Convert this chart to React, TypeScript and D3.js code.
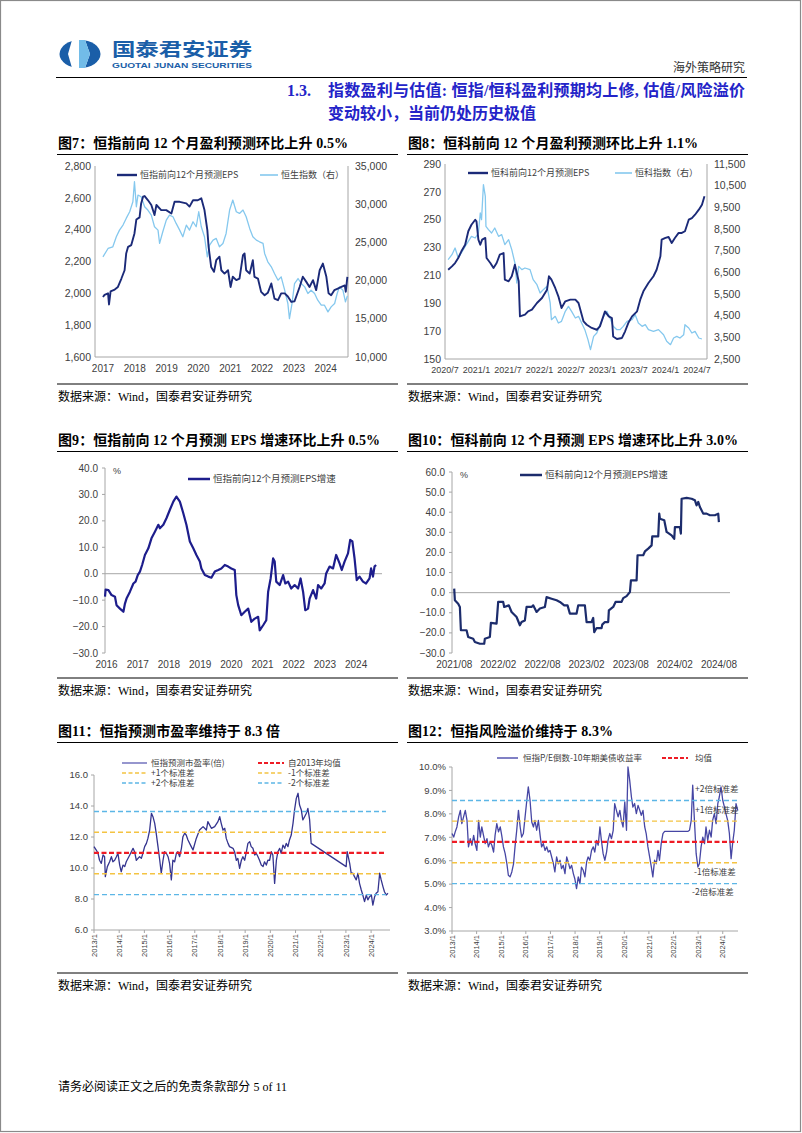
import React from "react";
import * as d3 from "d3";

type P = [number, number];

// ---------------- Fig 7: HSI forward EPS (left) & HSI (right) ----------------
const hsiEps: P[] = [
  [2017.0, 1977], [2017.05, 1990], [2017.16, 2000], [2017.19, 1930], [2017.24, 2013], [2017.37, 2024],
  [2017.47, 2040], [2017.58, 2093], [2017.68, 2145], [2017.73, 2250], [2017.79, 2292], [2017.89, 2303],
  [2017.99, 2376], [2018.05, 2464], [2018.15, 2477], [2018.2, 2565], [2018.26, 2607], [2018.31, 2611],
  [2018.41, 2586], [2018.52, 2555], [2018.62, 2492], [2018.68, 2555], [2018.83, 2523], [2018.99, 2523],
  [2019.15, 2502], [2019.25, 2575], [2019.41, 2575], [2019.62, 2565], [2019.72, 2545], [2019.83, 2585],
  [2019.98, 2585], [2020.09, 2597], [2020.19, 2523], [2020.28, 2397], [2020.32, 2292], [2020.4, 2166],
  [2020.49, 2135], [2020.56, 2208], [2020.66, 2230], [2020.72, 2145], [2020.82, 2124], [2020.93, 2145],
  [2021.01, 2040], [2021.08, 2104], [2021.19, 2083], [2021.29, 2093], [2021.4, 2240], [2021.45, 2250],
  [2021.5, 2145], [2021.61, 2124], [2021.71, 2208], [2021.76, 2104], [2021.87, 2093], [2021.97, 2009],
  [2022.08, 1988], [2022.18, 2003], [2022.29, 2062], [2022.39, 1967], [2022.5, 1957], [2022.6, 2000],
  [2022.71, 2000], [2022.81, 1980], [2022.92, 1946], [2023.02, 1950], [2023.18, 2040], [2023.28, 2104],
  [2023.39, 2072], [2023.49, 2040], [2023.6, 2083], [2023.7, 2020], [2023.81, 2145], [2023.91, 2187],
  [2024.02, 2104], [2024.09, 2000], [2024.17, 1988], [2024.27, 2020], [2024.38, 2030], [2024.49, 2040],
  [2024.6, 2050], [2024.63, 2010], [2024.68, 2104],
];
const hsiIndex: P[] = [
  [2017.0, 23114], [2017.16, 24206], [2017.31, 24425], [2017.42, 25736], [2017.52, 26610], [2017.63, 27265],
  [2017.73, 28139], [2017.84, 29013], [2017.94, 30324], [2017.99, 32946], [2018.05, 29668], [2018.1, 31198],
  [2018.2, 30980], [2018.31, 29668], [2018.41, 29232], [2018.52, 28576], [2018.62, 27047], [2018.73, 26610],
  [2018.78, 24862], [2018.88, 26391], [2018.99, 27920], [2019.09, 28576], [2019.2, 28358], [2019.3, 27484],
  [2019.41, 26610], [2019.51, 25736], [2019.62, 27265], [2019.72, 26610], [2019.83, 27702], [2019.93, 27047],
  [2020.01, 29013], [2020.09, 27047], [2020.19, 25736], [2020.28, 23114], [2020.35, 24643], [2020.46, 25299],
  [2020.56, 25517], [2020.66, 24425], [2020.77, 24862], [2020.87, 26173], [2020.98, 29232], [2021.08, 30543],
  [2021.19, 29013], [2021.29, 28795], [2021.4, 29232], [2021.5, 28358], [2021.61, 26828], [2021.71, 25736],
  [2021.82, 25299], [2021.92, 25080], [2022.03, 24862], [2022.08, 23551], [2022.18, 22459], [2022.29, 21802],
  [2022.39, 20929], [2022.5, 20055], [2022.6, 20492], [2022.71, 18744], [2022.81, 17000], [2022.86, 15030],
  [2022.94, 17000], [2023.02, 19618], [2023.13, 20273], [2023.23, 19618], [2023.34, 19180], [2023.44, 18307],
  [2023.54, 18744], [2023.65, 18307], [2023.75, 17432], [2023.86, 16777], [2023.96, 16777], [2024.07, 15903],
  [2024.17, 16558], [2024.28, 17000], [2024.36, 18307], [2024.43, 19181], [2024.54, 18744], [2024.62, 17214],
  [2024.68, 18000],
];
const fig7Years = [2017, 2018, 2019, 2020, 2021, 2022, 2023, 2024];
const fig7LeftTicks = [1600, 1800, 2000, 2200, 2400, 2600, 2800];
const fig7RightTicks = [10000, 15000, 20000, 25000, 30000, 35000];

// ---------------- Fig 8: HSTECH forward EPS (left) & HSTECH (right) ----------------
const hstechEps: P[] = [
  [2020.55, 214.1], [2020.61, 216.5], [2020.66, 218.9], [2020.71, 222.5], [2020.76, 227.3], [2020.82, 232.0],
  [2020.87, 241.7], [2020.92, 246.4], [2020.98, 250.0], [2021.0, 248.8], [2021.03, 235.7], [2021.06, 232.0],
  [2021.09, 235.7], [2021.14, 236.9], [2021.16, 222.5], [2021.22, 218.9], [2021.27, 215.3], [2021.32, 218.9],
  [2021.37, 224.9], [2021.43, 226.1], [2021.45, 207.0], [2021.51, 205.8], [2021.56, 209.4], [2021.61, 217.7],
  [2021.64, 211.7], [2021.67, 205.8], [2021.69, 180.6], [2021.77, 181.8], [2021.82, 184.2], [2021.88, 185.4],
  [2021.96, 190.2], [2022.04, 193.8], [2022.12, 199.8], [2022.15, 209.4], [2022.19, 207.0], [2022.25, 201.0],
  [2022.3, 195.0], [2022.35, 186.6], [2022.41, 191.4], [2022.49, 192.6], [2022.57, 192.6], [2022.62, 190.2],
  [2022.7, 177.0], [2022.75, 174.6], [2022.83, 172.3], [2022.91, 171.0], [2022.96, 173.4], [2023.04, 184.2],
  [2023.1, 180.6], [2023.15, 179.4], [2023.17, 166.2], [2023.23, 164.4], [2023.31, 165.1], [2023.36, 169.9],
  [2023.41, 175.8], [2023.47, 180.6], [2023.55, 184.2], [2023.6, 192.6], [2023.65, 198.6], [2023.73, 204.6],
  [2023.81, 209.4], [2023.86, 214.1], [2023.92, 223.7], [2023.94, 235.7], [2024.0, 236.9], [2024.05, 237.6],
  [2024.1, 233.3], [2024.15, 236.9], [2024.21, 240.5], [2024.26, 240.5], [2024.31, 241.7], [2024.37, 250.0],
  [2024.42, 251.2], [2024.47, 253.6], [2024.53, 257.2], [2024.58, 260.8], [2024.62, 266.8],
];
const hstechIndex: P[] = [
  [2020.55, 7084], [2020.61, 7315], [2020.66, 7623], [2020.71, 7161], [2020.76, 7392], [2020.82, 7700],
  [2020.87, 7931], [2020.92, 8161], [2020.98, 8085], [2021.03, 8315], [2021.06, 9239], [2021.08, 8931],
  [2021.11, 10546], [2021.14, 10008], [2021.15, 8623], [2021.19, 8469], [2021.24, 8315], [2021.29, 8546],
  [2021.35, 8161], [2021.4, 8238], [2021.45, 7777], [2021.51, 8008], [2021.56, 7546], [2021.61, 6931],
  [2021.64, 6008], [2021.67, 6777], [2021.72, 6623], [2021.77, 6700], [2021.85, 6623], [2021.9, 6162],
  [2021.96, 5931], [2022.01, 5546], [2022.06, 5700], [2022.12, 5854], [2022.17, 5085], [2022.19, 4315],
  [2022.25, 4469], [2022.3, 4162], [2022.35, 4239], [2022.41, 4700], [2022.46, 4931], [2022.51, 4700],
  [2022.57, 4392], [2022.62, 4469], [2022.67, 4162], [2022.72, 3854], [2022.77, 3392], [2022.81, 2931],
  [2022.86, 3546], [2022.91, 3700], [2022.96, 4085], [2023.02, 4469], [2023.07, 4700], [2023.12, 4392],
  [2023.17, 4008], [2023.23, 3854], [2023.28, 3854], [2023.33, 4008], [2023.39, 4239], [2023.47, 4315],
  [2023.52, 4546], [2023.57, 4162], [2023.63, 4008], [2023.68, 4085], [2023.73, 3854], [2023.81, 3777],
  [2023.89, 3854], [2023.97, 3623], [2024.02, 3316], [2024.08, 3162], [2024.13, 3469], [2024.18, 3546],
  [2024.23, 3469], [2024.29, 3623], [2024.31, 4085], [2024.37, 3931], [2024.42, 3700], [2024.47, 3777],
  [2024.53, 3469], [2024.58, 3423],
];
const fig8Ticks = [2020.5, 2021.0, 2021.5, 2022.0, 2022.5, 2023.0, 2023.5, 2024.0, 2024.5];
const fig8TickLabels = ["2020/7", "2021/1", "2021/7", "2022/1", "2022/7", "2023/1", "2023/7", "2024/1", "2024/7"];
const fig8LeftTicks = [150, 170, 190, 210, 230, 250, 270, 290];
const fig8RightTicks = [2500, 3500, 4500, 5500, 6500, 7500, 8500, 9500, 10500, 11500];

// ---------------- Fig 9: HSI forward EPS growth (%) ----------------
const hsiEpsGrowth: P[] = [
  [2016.0, -8.7], [2016.02, -6.0], [2016.11, -6.2], [2016.21, -8.1], [2016.32, -8.7], [2016.37, -11.9],
  [2016.48, -13.2], [2016.59, -14.4], [2016.64, -11.3], [2016.69, -9.4], [2016.8, -6.8], [2016.91, -3.7],
  [2016.98, -3.0], [2017.05, -0.5], [2017.12, 0.8], [2017.19, 3.3], [2017.28, 7.1], [2017.39, 9.6],
  [2017.49, 13.4], [2017.6, 15.9], [2017.71, 18.5], [2017.76, 17.2], [2017.87, 18.5], [2017.97, 21.0],
  [2018.08, 24.2], [2018.19, 27.3], [2018.29, 29.2], [2018.4, 27.3], [2018.51, 22.9], [2018.61, 18.5],
  [2018.72, 12.2], [2018.83, 9.6], [2018.93, 7.1], [2019.04, 4.6], [2019.09, 2.0], [2019.2, -0.5],
  [2019.31, -1.1], [2019.41, -1.5], [2019.52, 0.8], [2019.63, 1.4], [2019.73, 2.0], [2019.84, 3.3],
  [2019.95, 2.7], [2020.05, 2.0], [2020.16, 1.4], [2020.21, -8.1], [2020.27, -11.9], [2020.37, -15.7],
  [2020.48, -14.4], [2020.59, -13.2], [2020.69, -18.2], [2020.8, -17.0], [2020.91, -16.3], [2020.96, -21.4],
  [2021.07, -19.5], [2021.17, -17.6], [2021.23, -6.8], [2021.31, -1.8], [2021.39, 5.8], [2021.44, 4.6],
  [2021.49, -3.0], [2021.6, -4.3], [2021.71, -0.5], [2021.78, -3.7], [2021.87, -3.0], [2021.97, -5.6],
  [2022.08, -4.3], [2022.19, -5.6], [2022.27, -1.8], [2022.35, -6.8], [2022.42, -13.8], [2022.51, -13.2],
  [2022.56, -9.4], [2022.67, -6.2], [2022.77, -9.4], [2022.83, -4.3], [2022.93, -5.6], [2023.04, -3.7],
  [2023.09, 0.1], [2023.2, 2.7], [2023.31, 2.0], [2023.41, 7.1], [2023.52, 3.9], [2023.59, 1.4],
  [2023.68, 4.6], [2023.79, 7.7], [2023.86, 12.8], [2023.93, 12.2], [2024.0, 5.8], [2024.07, -2.4],
  [2024.16, -1.1], [2024.27, -3.0], [2024.37, -3.7], [2024.48, -1.8], [2024.53, 2.0], [2024.59, -1.1],
  [2024.64, 2.7], [2024.69, 3.3],
];
const fig9Years = [2016, 2017, 2018, 2019, 2020, 2021, 2022, 2023, 2024];
const fig9YTicks = [-30, -20, -10, 0, 10, 20, 30, 40];

// ---------------- Fig 10: HSTECH forward EPS growth (%), months since 2021/08 ----------------
const hstechEpsGrowth: P[] = [
  [0.0, 2.0], [0.09, -3.8], [0.54, -5.5], [0.77, -7.1], [0.91, -18.7], [1.68, -18.7], [1.9, -22.0],
  [2.58, -22.9], [2.81, -24.5], [3.49, -25.4], [4.08, -25.4], [4.17, -22.9], [4.85, -22.0], [4.99, -15.0],
  [5.76, -15.4], [5.98, -4.6], [6.66, -4.6], [6.8, -7.1], [7.43, -6.3], [7.8, -9.6], [8.48, -12.1],
  [8.93, -16.2], [9.16, -14.6], [9.61, -13.8], [9.84, -7.1], [10.52, -7.1], [10.74, -6.3], [11.2, -9.6],
  [11.65, -7.9], [12.33, -7.1], [12.56, -2.2], [13.24, -3.0], [13.92, -3.8], [14.37, -4.6], [14.96, -6.3],
  [15.41, -6.3], [15.73, -10.4], [16.64, -10.4], [16.86, -6.3], [17.77, -6.3], [18.0, -14.6], [18.68, -14.6],
  [18.9, -12.6], [19.04, -19.6], [19.36, -17.6], [20.04, -17.6], [20.13, -15.9], [20.49, -14.6], [20.94, -14.6],
  [21.03, -8.8], [21.62, -7.1], [21.94, -4.6], [22.76, -4.6], [22.98, -2.7], [23.44, -1.7], [23.89, 0.3],
  [24.03, 6.1], [24.8, 6.1], [24.93, 18.6], [25.7, 18.6], [25.93, 20.5], [26.38, 21.9], [26.84, 23.5],
  [26.93, 28.0], [27.74, 28.0], [27.88, 39.3], [27.97, 36.8], [28.56, 36.0], [28.88, 30.2], [29.56, 28.5],
  [29.92, 26.8], [30.01, 32.6], [30.69, 32.6], [30.82, 29.4], [30.92, 46.7], [31.6, 47.1], [32.28, 46.7],
  [32.73, 45.9], [32.96, 43.4], [33.18, 45.1], [33.41, 42.6], [33.86, 39.3], [34.32, 39.3], [34.77, 38.5],
  [35.45, 38.5], [35.9, 39.3], [35.99, 35.1],
];
const fig10Ticks = [0, 6, 12, 18, 24, 30, 36];
const fig10TickLabels = ["2021/08", "2022/02", "2022/08", "2023/02", "2023/08", "2024/02", "2024/08"];
const fig10YTicks = [-30, -20, -10, 0, 10, 20, 30, 40, 50, 60];

// ---------------- Fig 11: HSI forward P/E ----------------
const hsiPe: P[] = [
  [2013.0, 11.38], [2013.09, 11.16], [2013.16, 10.95], [2013.22, 10.5], [2013.29, 10.3], [2013.36, 10.84],
  [2013.42, 10.73], [2013.45, 9.44], [2013.53, 10.09], [2013.62, 10.4], [2013.69, 10.73], [2013.75, 10.4],
  [2013.82, 10.5], [2013.89, 10.73], [2013.95, 10.95], [2014.02, 10.19], [2014.08, 9.76], [2014.15, 10.19],
  [2014.22, 10.09], [2014.28, 10.4], [2014.42, 10.84], [2014.55, 11.27], [2014.61, 11.05], [2014.68, 10.5],
  [2014.81, 10.73], [2014.88, 10.62], [2014.94, 10.95], [2015.01, 11.38], [2015.08, 11.59], [2015.14, 11.91],
  [2015.21, 12.45], [2015.28, 13.53], [2015.34, 13.31], [2015.41, 12.88], [2015.47, 12.24], [2015.54, 11.38],
  [2015.61, 10.5], [2015.67, 9.66], [2015.74, 10.5], [2015.8, 11.05], [2015.87, 10.95], [2015.94, 10.73],
  [2016.0, 10.3], [2016.07, 9.23], [2016.13, 10.5], [2016.2, 10.4], [2016.27, 10.95], [2016.33, 11.05],
  [2016.4, 10.73], [2016.47, 11.27], [2016.53, 12.02], [2016.6, 12.24], [2016.66, 12.13], [2016.73, 11.81],
  [2016.86, 11.38], [2016.93, 11.16], [2017.06, 11.91], [2017.19, 12.45], [2017.33, 12.67], [2017.46, 12.45],
  [2017.52, 12.99], [2017.66, 12.56], [2017.79, 12.67], [2017.92, 12.99], [2017.99, 13.31], [2018.05, 12.88],
  [2018.12, 12.45], [2018.19, 12.56], [2018.25, 11.91], [2018.32, 11.59], [2018.38, 11.38], [2018.52, 11.27],
  [2018.58, 11.05], [2018.65, 10.5], [2018.71, 10.62], [2018.78, 9.98], [2018.85, 10.5], [2018.91, 10.73],
  [2018.98, 10.5], [2019.05, 11.05], [2019.11, 11.59], [2019.18, 11.7], [2019.24, 11.38], [2019.31, 11.27],
  [2019.38, 10.84], [2019.44, 10.95], [2019.51, 10.73], [2019.57, 10.5], [2019.64, 10.19], [2019.71, 10.09],
  [2019.77, 10.4], [2019.84, 10.19], [2019.9, 10.5], [2019.97, 10.5], [2020.04, 11.05], [2020.1, 10.84],
  [2020.17, 9.01], [2020.24, 10.5], [2020.3, 11.05], [2020.37, 11.27], [2020.43, 10.95], [2020.5, 11.48],
  [2020.57, 11.27], [2020.63, 11.59], [2020.7, 11.38], [2020.76, 11.81], [2020.83, 12.13], [2020.9, 12.88],
  [2020.96, 13.74], [2021.03, 14.49], [2021.1, 14.82], [2021.16, 14.06], [2021.23, 13.74], [2021.29, 13.1],
  [2021.36, 13.31], [2021.43, 13.53], [2021.49, 13.85], [2021.56, 13.1], [2021.62, 11.59], [2023.01, 10.09],
  [2023.05, 11.05], [2023.15, 10.3], [2023.21, 9.66], [2023.28, 9.66], [2023.34, 9.44], [2023.41, 9.23],
  [2023.48, 9.66], [2023.54, 9.01], [2023.61, 8.58], [2023.67, 8.26], [2023.74, 7.83], [2023.81, 8.26],
  [2023.87, 7.94], [2023.94, 8.15], [2024.01, 8.26], [2024.07, 7.61], [2024.14, 8.15], [2024.2, 8.37],
  [2024.27, 8.47], [2024.34, 9.66], [2024.4, 9.23], [2024.47, 8.8], [2024.53, 8.47], [2024.6, 8.26],
  [2024.67, 8.37],
];
const fig11Levels = [8.28, 9.63, 10.97, 12.31, 13.65]; // -2sd, -1sd, mean, +1sd, +2sd
const fig11YTicks = [6, 8, 10, 12, 14, 16];

// ---------------- Fig 12: HSI risk premium (%) ----------------
const hsiErp: P[] = [
  [2013.0, 7.16], [2013.07, 7.01], [2013.13, 7.23], [2013.2, 7.44], [2013.27, 7.87], [2013.34, 8.15],
  [2013.4, 7.58], [2013.47, 7.87], [2013.54, 8.15], [2013.61, 7.72], [2013.67, 6.59], [2013.74, 6.94],
  [2013.81, 6.66], [2013.88, 7.08], [2013.94, 6.73], [2014.01, 6.44], [2014.08, 7.72], [2014.15, 7.01],
  [2014.21, 7.44], [2014.28, 7.08], [2014.35, 6.73], [2014.42, 6.94], [2014.48, 6.59], [2014.55, 6.8],
  [2014.62, 6.66], [2014.69, 6.37], [2014.75, 7.08], [2014.82, 7.58], [2014.89, 7.23], [2014.96, 7.44],
  [2015.02, 7.08], [2015.09, 6.59], [2015.16, 6.3], [2015.23, 5.87], [2015.29, 5.38], [2015.36, 5.31],
  [2015.43, 5.52], [2015.5, 5.87], [2015.56, 6.59], [2015.63, 7.3], [2015.7, 8.15], [2015.77, 7.44],
  [2015.83, 7.01], [2015.9, 7.16], [2015.97, 7.87], [2016.04, 8.58], [2016.1, 9.15], [2016.17, 8.58],
  [2016.24, 7.65], [2016.31, 7.44], [2016.37, 7.72], [2016.44, 7.3], [2016.51, 7.72], [2016.58, 7.08],
  [2016.64, 6.59], [2016.71, 6.73], [2016.78, 6.44], [2016.85, 6.59], [2016.91, 6.37], [2016.98, 6.44],
  [2017.05, 6.16], [2017.12, 5.87], [2017.18, 5.52], [2017.25, 6.16], [2017.32, 5.87], [2017.39, 6.02],
  [2017.45, 5.66], [2017.52, 5.8], [2017.59, 5.45], [2017.66, 6.16], [2017.72, 5.95], [2017.79, 5.66],
  [2017.86, 5.8], [2017.93, 5.45], [2017.99, 5.23], [2018.06, 4.81], [2018.13, 5.31], [2018.2, 5.02],
  [2018.26, 5.73], [2018.33, 5.59], [2018.4, 5.31], [2018.47, 5.95], [2018.53, 6.16], [2018.6, 6.02],
  [2018.67, 6.44], [2018.74, 6.59], [2018.8, 6.37], [2018.87, 6.87], [2018.94, 6.66], [2019.01, 7.44],
  [2019.07, 6.87], [2019.14, 6.3], [2019.21, 6.02], [2019.28, 6.37], [2019.34, 6.87], [2019.41, 7.16],
  [2019.48, 6.94], [2019.55, 7.3], [2019.61, 8.44], [2019.68, 8.15], [2019.75, 7.87], [2019.82, 8.15],
  [2019.88, 7.72], [2019.95, 7.44], [2020.02, 8.51], [2020.09, 7.3], [2020.15, 10.0], [2020.22, 9.43],
  [2020.29, 8.72], [2020.35, 8.29], [2020.42, 8.44], [2020.49, 8.01], [2020.56, 8.36], [2020.63, 8.15],
  [2020.69, 7.94], [2020.76, 8.15], [2020.83, 7.44], [2020.89, 7.16], [2020.96, 6.59], [2021.03, 6.16],
  [2021.1, 5.73], [2021.16, 5.31], [2021.23, 6.02], [2021.3, 5.87], [2021.37, 6.44], [2021.43, 6.02],
  [2021.5, 6.73], [2021.57, 7.16], [2021.64, 7.25], [2022.58, 7.25], [2022.65, 7.3], [2022.72, 7.72],
  [2022.78, 9.22], [2022.85, 7.72], [2022.92, 6.3], [2022.99, 5.73], [2023.05, 5.87], [2023.12, 6.59],
  [2023.19, 7.01], [2023.26, 6.73], [2023.32, 7.44], [2023.39, 6.87], [2023.46, 7.3], [2023.53, 7.01],
  [2023.59, 7.72], [2023.66, 8.01], [2023.73, 7.58], [2023.8, 8.44], [2023.86, 8.72], [2023.93, 9.15],
  [2024.0, 8.58], [2024.07, 8.29], [2024.13, 8.01], [2024.2, 7.72], [2024.27, 7.16], [2024.34, 6.09],
  [2024.4, 6.73], [2024.47, 7.3], [2024.54, 8.44], [2024.61, 8.15],
];
const fig12Levels = [5.02, 5.91, 6.8, 7.69, 8.57];
const fig12YTicks = [3, 4, 5, 6, 7, 8, 9, 10];
const bandYears = [2013, 2014, 2015, 2016, 2017, 2018, 2019, 2020, 2021, 2022, 2023, 2024];

// ---------------- styles ----------------
const SERIF = "'Liberation Serif','Times New Roman','Noto Sans CJK SC',serif";
const SANS = "'Liberation Sans',Arial,'Noto Sans CJK SC',sans-serif";
const CJK = "'Noto Sans CJK SC','Liberation Sans',sans-serif";
const AXIS = "#a6a6a6";
const LABEL = "#404040";
const DARK = "#1b2a78";
const LIGHT = "#85c8ee";
const RED = "#ee1c25";
const YELLOW = "#f4c342";
const BLUE = "#5cb6e6";

type Frame = { l: number; r: number; t: number; b: number };

function FigTitle({ x, y, text, width }: { x: number; y: number; text: string; width: number }) {
  return (
    <g>
      <text x={x} y={y} fontFamily={SERIF} fontWeight="bold" fontSize={14} fill="#000"
        textLength={width} lengthAdjust="spacing">{text}</text>
      <line x1={x - 1} x2={x + 340} y1={y + 6.5} y2={y + 6.5} stroke="#000" strokeWidth={1} />
    </g>
  );
}

function Source({ x, y }: { x: number; y: number }) {
  return (
    <g>
      <line x1={x - 1} x2={x + 340} y1={y - 13} y2={y - 13} stroke="#000" strokeWidth={1} />
      <text x={x} y={y + 4} fontFamily={SERIF} fontSize={12} fill="#000" textLength={194}
        lengthAdjust="spacing">数据来源：Wind，国泰君安证券研究</text>
    </g>
  );
}

function DualChart(props: {
  f: Frame; xDomain: [number, number]; yL: [number, number]; yR: [number, number];
  xTicks: number[]; xLabels: string[]; lTicks: number[]; rTicks: number[]; xFont: number;
  dark: P[]; light: P[]; legend: { x1: number; x2: number; y: number; text: string }[];
}) {
  const { f } = props;
  const x = d3.scaleLinear().domain(props.xDomain).range([f.l, f.r]);
  const yl = d3.scaleLinear().domain(props.yL).range([f.b, f.t]);
  const yr = d3.scaleLinear().domain(props.yR).range([f.b, f.t]);
  const lineL = d3.line<P>().x((d) => x(d[0])).y((d) => yl(d[1]));
  const lineR = d3.line<P>().x((d) => x(d[0])).y((d) => yr(d[1]));
  const fmt = d3.format(",");
  const colors = [DARK, LIGHT];
  const widths = [2.4, 1.6];
  return (
    <g>
      <line x1={f.l} x2={f.l} y1={f.t} y2={f.b} stroke={AXIS} />
      <line x1={f.r} x2={f.r} y1={f.t} y2={f.b} stroke={AXIS} />
      <line x1={f.l} x2={f.r} y1={f.b} y2={f.b} stroke={AXIS} />
      <path d={lineR(props.light) || ""} fill="none" stroke={LIGHT} strokeWidth={1.3} strokeLinejoin="round" />
      <path d={lineL(props.dark) || ""} fill="none" stroke={DARK} strokeWidth={1.9} strokeLinejoin="round" />
      {props.lTicks.map((t) => (
        <text key={"l" + t} x={f.l - 4} y={yl(t)} dy="0.35em" textAnchor="end" fontFamily={SANS} fontSize={10.5} fill={LABEL}>{fmt(t)}</text>
      ))}
      {props.rTicks.map((t) => (
        <text key={"r" + t} x={f.r + 7} y={yr(t)} dy="0.35em" textAnchor="start" fontFamily={SANS} fontSize={10.5} fill={LABEL}>{fmt(t)}</text>
      ))}
      {props.xTicks.map((t, i) => (
        <text key={"x" + t} x={x(t)} y={f.b + 11} dy="0.35em" textAnchor="middle" fontFamily={SANS} fontSize={props.xFont} fill={LABEL}>{props.xLabels[i]}</text>
      ))}
      {props.legend.map((g, i) => (
        <g key={"lg" + i}>
          <line x1={g.x1} x2={g.x2} y1={g.y} y2={g.y} stroke={colors[i]} strokeWidth={widths[i]} />
          <text x={g.x2 + 3} y={g.y} dy="0.35em" fontFamily={CJK} fontSize={9} fill="#404040">{g.text}</text>
        </g>
      ))}
    </g>
  );
}

function GrowthChart(props: {
  f: Frame; xDomain: [number, number]; yDomain: [number, number]; xTicks: number[]; xLabels: string[];
  yTicks: number[]; data: P[]; color: string; legend: { x1: number; x2: number; y: number; text: string };
}) {
  const { f } = props;
  const x = d3.scaleLinear().domain(props.xDomain).range([f.l, f.r]);
  const y = d3.scaleLinear().domain(props.yDomain).range([f.b, f.t]);
  const line = d3.line<P>().x((d) => x(d[0])).y((d) => y(d[1]));
  const fmt = d3.format(".1f");
  return (
    <g>
      <line x1={f.l} x2={f.l} y1={f.t} y2={f.b} stroke={AXIS} />
      <line x1={f.l} x2={f.r} y1={y(0)} y2={y(0)} stroke={AXIS} />
      {props.yTicks.map((t) => (
        <g key={"y" + t}>
          <line x1={f.l - 3} x2={f.l} y1={y(t)} y2={y(t)} stroke={AXIS} />
          <text x={f.l - 7} y={y(t)} dy="0.35em" textAnchor="end" fontFamily={SANS} fontSize={10} fill={LABEL}>{fmt(t)}</text>
        </g>
      ))}
      <text x={f.l + 8} y={f.t + 3} dy="0.35em" fontFamily={SANS} fontSize={9} fill={LABEL}>%</text>
      <path d={line(props.data) || ""} fill="none" stroke={props.color} strokeWidth={2.2} strokeLinejoin="round" />
      {props.xTicks.map((t, i) => (
        <text key={"x" + t} x={x(t)} y={f.b + 11} dy="0.35em" textAnchor="middle" fontFamily={SANS} fontSize={10} fill={LABEL}>{props.xLabels[i]}</text>
      ))}
      <line x1={props.legend.x1} x2={props.legend.x2} y1={props.legend.y} y2={props.legend.y} stroke={props.color} strokeWidth={2.5} />
      <text x={props.legend.x2 + 3} y={props.legend.y} dy="0.35em" fontFamily={CJK} fontSize={9.5} fill="#404040">{props.legend.text}</text>
    </g>
  );
}

function BandChart(props: {
  f: Frame; xDomain: [number, number]; yDomain: [number, number]; yTicks: number[]; yFmt: (v: number) => string;
  data: P[]; color: string; levels: number[]; lineEnd: number; children?: React.ReactNode;
}) {
  const { f } = props;
  const x = d3.scaleLinear().domain(props.xDomain).range([f.l, f.r]);
  const y = d3.scaleLinear().domain(props.yDomain).range([f.b, f.t]);
  const line = d3.line<P>().x((d) => x(d[0])).y((d) => y(d[1]));
  const levelColors = [BLUE, YELLOW, RED, YELLOW, BLUE];
  return (
    <g>
      <line x1={f.l} x2={f.l} y1={f.t} y2={f.b} stroke={AXIS} />
      <line x1={f.l} x2={f.r} y1={f.b} y2={f.b} stroke={AXIS} />
      {props.yTicks.map((t) => (
        <g key={"y" + t}>
          <line x1={f.l - 3} x2={f.l} y1={y(t)} y2={y(t)} stroke={AXIS} />
          <text x={f.l - 6} y={y(t)} dy="0.35em" textAnchor="end" fontFamily={SANS} fontSize={9.5} fill={LABEL}>{props.yFmt(t)}</text>
        </g>
      ))}
      {bandYears.map((yr) => (
        <g key={"x" + yr}>
          <line x1={x(yr)} x2={x(yr)} y1={f.b} y2={f.b + 3} stroke={AXIS} />
          <text transform={`translate(${x(yr)},${f.b + 4}) rotate(-90)`} dy="0.35em" textAnchor="end"
            fontFamily={SANS} fontSize={7.5} fill={LABEL}>{`${yr}/1`}</text>
        </g>
      ))}
      <path d={line(props.data) || ""} fill="none" stroke={props.color} strokeWidth={1.3} strokeLinejoin="round" />
      {props.levels.map((v, i) => (
        <line key={"lv" + i} x1={f.l} x2={props.lineEnd} y1={y(v)} y2={y(v)} stroke={levelColors[i]}
          strokeWidth={i === 2 ? 2.2 : 1.4} strokeDasharray={i === 2 ? "5,2.5" : "5,3"} />
      ))}
      {props.children}
    </g>
  );
}

function Legend11() {
  const items = [
    { x1: 122, x2: 147, y: 763, c: "#7b7bc2", dash: "", w: 1.6, t: "恒指预测市盈率(倍)" },
    { x1: 258, x2: 284, y: 763, c: RED, dash: "4,2", w: 2.2, t: "自2013年均值" },
    { x1: 122, x2: 147, y: 773, c: YELLOW, dash: "4,2.5", w: 1.4, t: "+1个标准差" },
    { x1: 258, x2: 284, y: 773, c: YELLOW, dash: "4,2.5", w: 1.4, t: "-1个标准差" },
    { x1: 122, x2: 147, y: 783, c: BLUE, dash: "4,2.5", w: 1.4, t: "+2个标准差" },
    { x1: 258, x2: 284, y: 783, c: BLUE, dash: "4,2.5", w: 1.4, t: "-2个标准差" },
  ];
  return (
    <g>
      {items.map((it, i) => (
        <g key={i}>
          <line x1={it.x1} x2={it.x2} y1={it.y} y2={it.y} stroke={it.c} strokeWidth={it.w} strokeDasharray={it.dash} />
          <text x={it.x2 + 4} y={it.y} dy="0.35em" fontFamily={CJK} fontSize={8.5} fill="#404040">{it.t}</text>
        </g>
      ))}
    </g>
  );
}

function Logo() {
  return (
    <g>
      <ellipse cx={80} cy={54} rx={20.5} ry={14} fill="#1a5ea8" />
      <polygon points="72,40 85,40 90,54 85,68 72,68 68,54" fill="#ffffff" />
      <polygon points="79,40 85,40 90,54 85,68 79,68" fill="#72bce8" />
      <text x={112} y={55.5} fontFamily={CJK} fontWeight="bold" fontSize={18} fill="#1a5ea8" textLength={140}
        lengthAdjust="spacingAndGlyphs">国泰君安证券</text>
      <text x={112} y={67.5} fontFamily={SANS} fontWeight="bold" fontSize={7} fill="#1a5ea8" textLength={140}
        lengthAdjust="spacingAndGlyphs">GUOTAI JUNAN SECURITIES</text>
    </g>
  );
}

export default function App() {
  return (
    <svg width={802} height={1133} viewBox="0 0 802 1133"
      style={{ position: "absolute", left: 0, top: 0, background: "#fff", display: "block" }}>
      <rect x={0} y={0} width={802} height={1133} fill="#fff" />
      <rect x={0.5} y={0.5} width={800} height={1131} fill="none" stroke="#8a8a8a" strokeWidth={1.2} />
      <Logo />
      <text x={745} y={72} textAnchor="end" fontFamily={CJK} fontSize={12} fill="#333">海外策略研究</text>
      <line x1={56} x2={747} y1={77.5} y2={77.5} stroke="#000" strokeWidth={1.2} />
      <text x={287} y={96} fontFamily={SERIF} fontWeight="bold" fontSize={16} fill="#2323c8">1.3.</text>
      <text x={328} y={96} fontFamily={SERIF} fontWeight="bold" fontSize={16} fill="#2323c8" textLength={417}
        lengthAdjust="spacing">指数盈利与估值: 恒指/恒科盈利预期均上修, 估值/风险溢价</text>
      <text x={328} y={119} fontFamily={SERIF} fontWeight="bold" fontSize={16} fill="#2323c8">变动较小，当前仍处历史极值</text>

      {/* Row 1 */}
      <FigTitle x={58} y={148} text="图7：恒指前向 12 个月盈利预测环比上升 0.5%" width={290} />
      <FigTitle x={408} y={148} text="图8：恒科前向 12 个月盈利预测环比上升 1.1%" width={290} />
      <DualChart f={{ l: 95, r: 348, t: 166, b: 357 }} xDomain={[2016.75, 2024.7]} yL={[1600, 2800]} yR={[10000, 35000]}
        xTicks={fig7Years} xLabels={fig7Years.map(String)} lTicks={fig7LeftTicks} rTicks={fig7RightTicks} xFont={10}
        dark={hsiEps} light={hsiIndex}
        legend={[{ x1: 117, x2: 137, y: 175, text: "恒指前向12个月预测EPS" }, { x1: 260, x2: 278, y: 175, text: "恒生指数（右）" }]} />
      <DualChart f={{ l: 445, r: 707, t: 164, b: 359 }} xDomain={[2020.5, 2024.66]} yL={[150, 290]} yR={[2500, 11500]}
        xTicks={fig8Ticks} xLabels={fig8TickLabels} lTicks={fig8LeftTicks} rTicks={fig8RightTicks} xFont={9}
        dark={hstechEps} light={hstechIndex}
        legend={[{ x1: 468, x2: 488, y: 173, text: "恒科前向12个月预测EPS" }, { x1: 615, x2: 632, y: 173, text: "恒科指数（右）" }]} />
      <Source x={58} y={397} />
      <Source x={408} y={397} />

      {/* Row 2 */}
      <FigTitle x={58} y={445} text="图9：恒指前向 12 个月预测 EPS 增速环比上升 0.5%" width={322} />
      <FigTitle x={408} y={445} text="图10：恒科前向 12 个月预测 EPS 增速环比上升 3.0%" width={330} />
      <GrowthChart f={{ l: 105, r: 382, t: 468, b: 653 }} xDomain={[2016, 2024.88]} yDomain={[-30, 40]}
        xTicks={fig9Years.map((y) => y + 0.05)} xLabels={fig9Years.map(String)} yTicks={fig9YTicks}
        data={hsiEpsGrowth} color="#1d1d8c" legend={{ x1: 188, x2: 210, y: 479, text: "恒指前向12个月预测EPS增速" }} />
      <GrowthChart f={{ l: 452, r: 730, t: 472, b: 653 }} xDomain={[-0.3, 37.5]} yDomain={[-30, 60]}
        xTicks={fig10Ticks} xLabels={fig10TickLabels} yTicks={fig10YTicks}
        data={hstechEpsGrowth} color="#1c2c6c" legend={{ x1: 520, x2: 542, y: 475, text: "恒科前向12个月预测EPS增速" }} />
      <Source x={58} y={691} />
      <Source x={408} y={691} />

      {/* Row 3 */}
      <FigTitle x={58} y={736} text="图11：恒指预测市盈率维持于 8.3 倍" width={222} />
      <FigTitle x={408} y={736} text="图12：恒指风险溢价维持于 8.3%" width={205} />
      <BandChart f={{ l: 94, r: 390, t: 775, b: 930 }} xDomain={[2013, 2024.75]} yDomain={[6, 16]}
        yTicks={fig11YTicks} yFmt={d3.format(".1f")} data={hsiPe} color="#34348f" levels={fig11Levels} lineEnd={386}>
        <Legend11 />
      </BandChart>
      <BandChart f={{ l: 452, r: 738, t: 767, b: 931 }} xDomain={[2013, 2024.62]} yDomain={[3, 10]}
        yTicks={fig12YTicks} yFmt={(v) => d3.format(".1f")(v) + "%"} data={hsiErp} color="#4646a4" levels={fig12Levels} lineEnd={738}>
        <g>
          <line x1={497} x2={518} y1={758} y2={758} stroke="#8080c4" strokeWidth={2} />
          <text x={523} y={758} dy="0.35em" fontFamily={CJK} fontSize={8.5} fill="#404040">恒指P/E倒数-10年期美债收益率</text>
          <line x1={662} x2={688} y1={758} y2={758} stroke={RED} strokeWidth={2.2} strokeDasharray="4,2" />
          <text x={695} y={758} dy="0.35em" fontFamily={CJK} fontSize={8.5} fill="#404040">均值</text>
          <text x={695} y={789} dy="0.35em" fontFamily={CJK} fontSize={8.5} fill="#404040">+2倍标准差</text>
          <text x={695} y={810} dy="0.35em" fontFamily={CJK} fontSize={8.5} fill="#404040">+1倍标准差</text>
          <text x={694} y={872} dy="0.35em" fontFamily={CJK} fontSize={8.5} fill="#404040">-1倍标准差</text>
          <text x={692} y={892} dy="0.35em" fontFamily={CJK} fontSize={8.5} fill="#404040">-2倍标准差</text>
        </g>
      </BandChart>
      <Source x={58} y={986} />
      <Source x={408} y={986} />

      <text x={58} y={1091} fontFamily={SERIF} fontSize={12} fill="#000" textLength={229}
        lengthAdjust="spacing">请务必阅读正文之后的免责条款部分 5 of 11</text>
    </svg>
  );
}
